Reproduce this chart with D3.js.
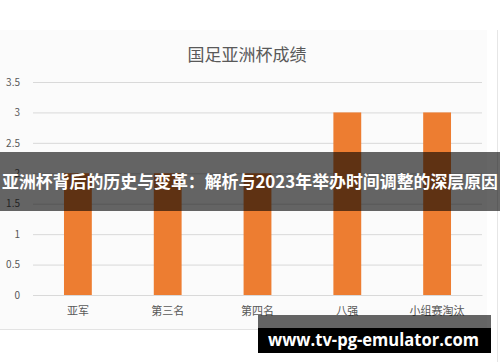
<!DOCTYPE html>
<html>
<head>
<meta charset="utf-8">
<script src="https://cdn.jsdelivr.net/npm/d3@7"></script>
<style>
	body { margin: 0; background: #fff; }
	svg { display: block; }
</style>
</head>
<body>
<svg width="500" height="362"></svg>
<script>
var title = "国足亚洲杯成绩";
var categories = ["亚军", "第三名", "第四名", "八强", "小组赛淘汰"];
var values = [2, 2, 2, 3, 3];
var yTicks = [0, 0.5, 1, 1.5, 2, 2.5, 3, 3.5];
var banner = "亚洲杯背后的历史与变革：解析与2023年举办时间调整的深层原因";
var watermark = "www.tv-pg-emulator.com";

function drawPlot() {
	var svg = d3.select("svg");
	var font = "'Noto Sans CJK SC', 'Open Sans', sans-serif";
	var margin = {left: 33, top: 82, right: 18, bottom: 67};
	var width = 500 - margin.left - margin.right,
		height = 362 - margin.top - margin.bottom;

	// chart panel (light background like a screenshot of a spreadsheet chart)
	svg.append("rect")
		.attr("x", 0).attr("y", 30)
		.attr("width", 487).attr("height", 299)
		.style("fill", "#fbfbfb");
	svg.append("line")
		.attr("x1", 0).attr("x2", 487)
		.attr("y1", 329.5).attr("y2", 329.5)
		.style("stroke", "#e3e3e3");
	svg.append("line")
		.attr("x1", 497.5).attr("x2", 497.5)
		.attr("y1", 30).attr("y2", 362)
		.style("stroke", "#e6e6e6");

	svg.append("text")
		.attr("x", 247).attr("y", 61)
		.attr("text-anchor", "middle")
		.style("font-family", font)
		.style("font-size", "17px")
		.style("fill", "#595959")
		.text(title);

	var x = d3.scaleBand()
		.domain(categories)
		.range([0, width])
		.paddingInner(0.69)
		.paddingOuter(0.345);
	var y = d3.scaleLinear()
		.domain([0, 3.5])
		.range([height, 0]);

	var grp = svg.append("g")
		.attr("transform", "translate(" + margin.left + "," + margin.top + ")");

	var yAxis = grp.append("g")
		.call(d3.axisLeft(y).tickValues(yTicks).tickSize(-width).tickPadding(13)
			.tickFormat(d => d));
	yAxis.select(".domain").remove();
	yAxis.selectAll(".tick line").style("stroke", "#d9d9d9");
	yAxis.selectAll(".tick text")
		.style("font-family", font)
		.style("font-size", "10px")
		.style("fill", "#595959");

	grp.selectAll("rect.bar").data(values)
		.enter().append("rect")
		.attr("class", "bar")
		.attr("x", (d, i) => x(categories[i]))
		.attr("y", d => y(d))
		.attr("width", x.bandwidth())
		.attr("height", d => height - y(d))
		.style("fill", "#ED7D31");

	var xAxis = grp.append("g")
		.attr("transform", "translate(0," + height + ")")
		.call(d3.axisBottom(x).tickSize(0).tickPadding(12));
	xAxis.select(".domain").style("stroke", "#d9d9d9");
	xAxis.selectAll(".tick text")
		.style("font-family", font)
		.style("font-size", "11px")
		.style("fill", "#595959");

	// overlay banner
	svg.append("rect")
		.attr("x", 0).attr("y", 152)
		.attr("width", 500).attr("height", 59)
		.style("fill", "rgba(0,0,0,0.6)");
	svg.append("text")
		.attr("x", 2).attr("y", 188)
		.attr("textLength", 496)
		.attr("lengthAdjust", "spacingAndGlyphs")
		.style("font-family", font)
		.style("font-weight", "bold")
		.style("font-size", "17px")
		.style("fill", "#fff")
		.text(banner);

	// watermark
	svg.append("rect")
		.attr("x", 258).attr("y", 315)
		.attr("width", 233).attr("height", 13)
		.style("fill", "rgba(0,0,0,0.6)");
	svg.append("rect")
		.attr("x", 258).attr("y", 328)
		.attr("width", 233).attr("height", 25)
		.style("fill", "#000");
	svg.append("text")
		.attr("x", 268).attr("y", 346)
		.attr("textLength", 211)
		.attr("lengthAdjust", "spacingAndGlyphs")
		.style("font-family", "'Open Sans', sans-serif")
		.style("font-weight", "bold")
		.style("font-size", "18px")
		.style("fill", "#fff")
		.text(watermark);
}
drawPlot();
</script>
</body>
</html>
